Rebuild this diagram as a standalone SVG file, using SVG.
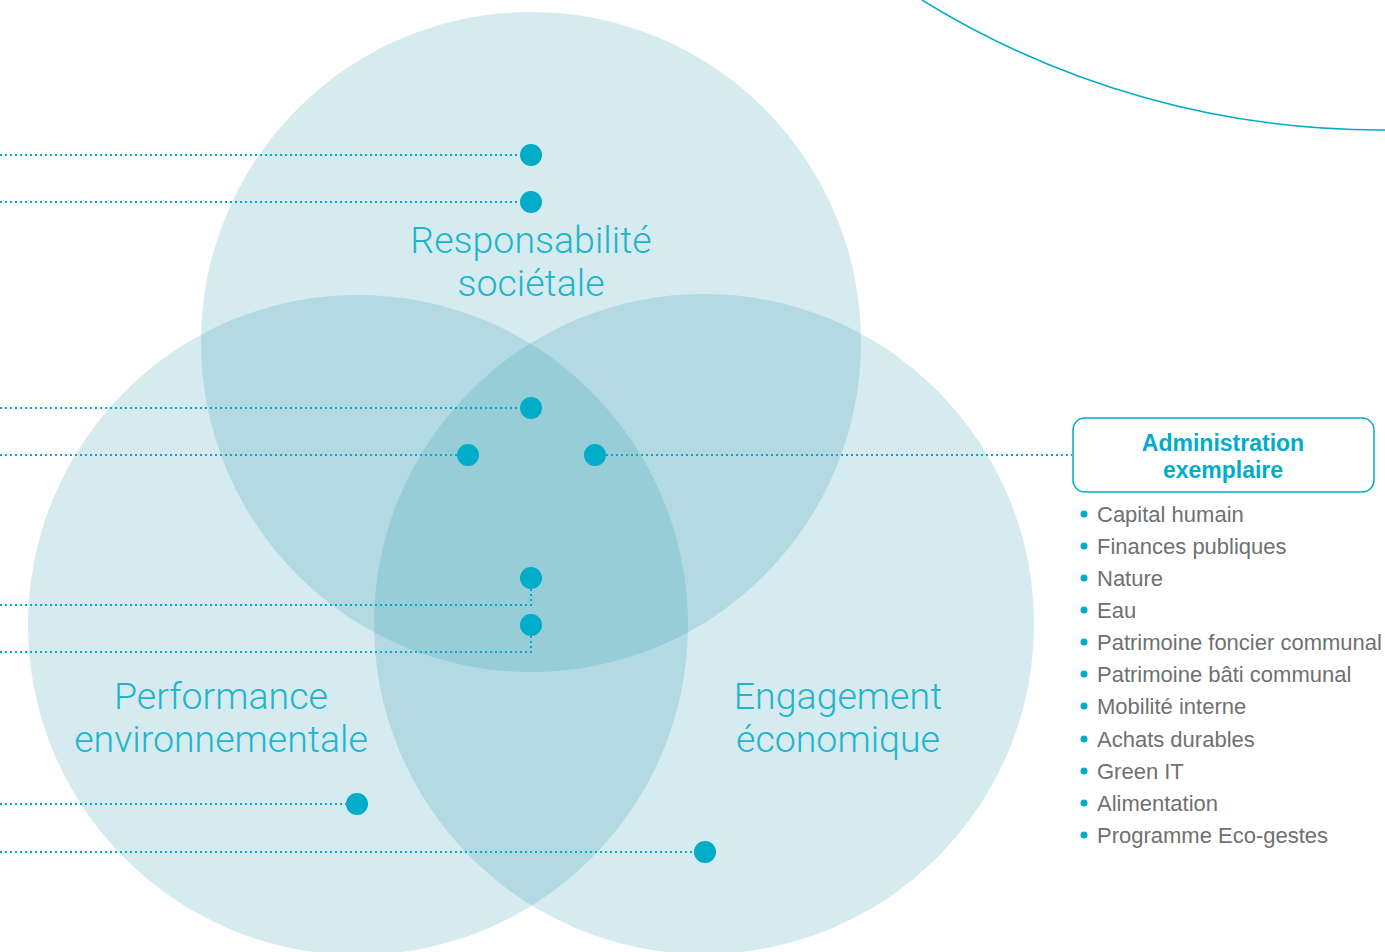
<svg xmlns="http://www.w3.org/2000/svg" width="1385" height="952" viewBox="0 0 1385 952">
<style>
.c{fill:rgb(34,150,171);fill-opacity:0.19}
.dl{fill:none;stroke:#00acc8;stroke-width:2;stroke-dasharray:2 3}
.dot{fill:#00acc8}
.big{font-family:Roboto,"Liberation Sans",sans-serif;font-weight:300;font-size:37.5px;fill:#22b4cb;text-anchor:middle}
.bx{fill:#fff;stroke:#00acc8;stroke-width:1.5}
.bt{font-family:"Liberation Sans",Arial,sans-serif;font-weight:bold;font-size:23px;fill:#00acc8;text-anchor:middle}
.li{font-family:"Liberation Sans",Arial,sans-serif;font-size:22px;fill:#707070}
</style>
<rect width="1385" height="952" fill="#fff"/>
<path d="M922,0 A872,872 0 0 0 1385,130" fill="none" stroke="#00acc8" stroke-width="1.5"/>
<g id="circle-societale"><circle class="c" cx="531" cy="342" r="330"/></g>
<g id="circle-environnementale"><circle class="c" cx="358" cy="625" r="330"/></g>
<g id="circle-economique"><circle class="c" cx="704" cy="624" r="330"/></g>
<g id="connectors">
<path class="dl" d="M0,155H520"/>
<path class="dl" d="M0,202H520"/>
<path class="dl" d="M0,408H520"/>
<path class="dl" d="M0,455H457"/>
<path class="dl" d="M606,455H1072"/>
<path class="dl" d="M0,605H531V589"/>
<path class="dl" d="M0,652H531V636"/>
<path class="dl" d="M0,804H346"/>
<path class="dl" d="M0,852H694"/>
</g>
<g id="dots">
<circle class="dot" cx="531" cy="155" r="11"/>
<circle class="dot" cx="531" cy="202" r="11"/>
<circle class="dot" cx="531" cy="408" r="11"/>
<circle class="dot" cx="468" cy="455" r="11"/>
<circle class="dot" cx="595" cy="455" r="11"/>
<circle class="dot" cx="531" cy="578" r="11"/>
<circle class="dot" cx="531" cy="625" r="11"/>
<circle class="dot" cx="357" cy="804" r="11"/>
<circle class="dot" cx="705" cy="852" r="11"/>
</g>
<g id="label-societale"><text class="big" x="531" y="253">Responsabilité</text><text class="big" x="531" y="296">sociétale</text></g>
<g id="label-environnementale"><text class="big" x="221" y="709">Performance</text><text class="big" x="221" y="752">environnementale</text></g>
<g id="label-economique"><text class="big" x="838" y="709">Engagement</text><text class="big" x="838" y="752">économique</text></g>
<g id="node-administration">
<rect class="bx" x="1073" y="418" width="301" height="74" rx="12"/>
<text class="bt" x="1223" y="451">Administration</text>
<text class="bt" x="1223" y="478">exemplaire</text>
</g>
<g id="list">
<g class="dot"><circle cx="1084" cy="514" r="3.5"/><circle cx="1084" cy="546" r="3.5"/><circle cx="1084" cy="578" r="3.5"/><circle cx="1084" cy="610" r="3.5"/><circle cx="1084" cy="642" r="3.5"/><circle cx="1084" cy="674" r="3.5"/><circle cx="1084" cy="706" r="3.5"/><circle cx="1084" cy="739" r="3.5"/><circle cx="1084" cy="771" r="3.5"/><circle cx="1084" cy="803" r="3.5"/><circle cx="1084" cy="835" r="3.5"/></g>
<text class="li" x="1097" y="522">Capital humain</text>
<text class="li" x="1097" y="554">Finances publiques</text>
<text class="li" x="1097" y="586">Nature</text>
<text class="li" x="1097" y="618">Eau</text>
<text class="li" x="1097" y="650">Patrimoine foncier communal</text>
<text class="li" x="1097" y="682">Patrimoine bâti communal</text>
<text class="li" x="1097" y="714">Mobilité interne</text>
<text class="li" x="1097" y="747">Achats durables</text>
<text class="li" x="1097" y="779">Green IT</text>
<text class="li" x="1097" y="811">Alimentation</text>
<text class="li" x="1097" y="843">Programme Eco-gestes</text>
</g>
</svg>
